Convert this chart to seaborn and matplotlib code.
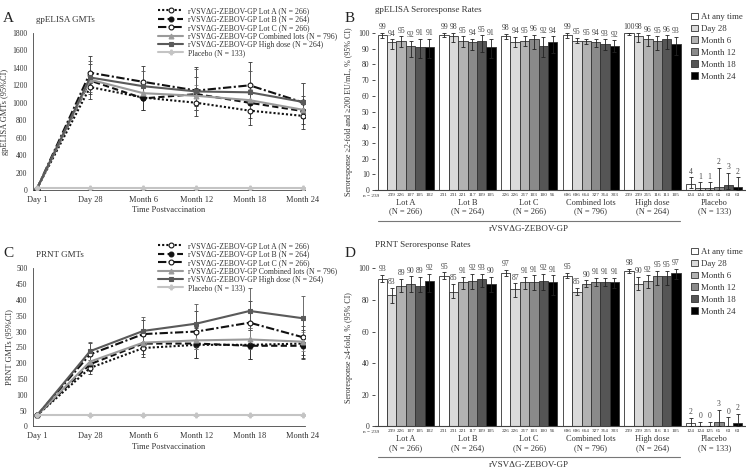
import matplotlib
matplotlib.use('Agg')
import matplotlib.pyplot as plt
from matplotlib.container import BarContainer
import seaborn as sns
import numpy as np
import pandas as pd

sns.set_style('white')
plt.rcParams['font.family'] = ['Liberation Serif', 'DejaVu Serif']
plt.rcParams['text.color'] = '#333333'
plt.rcParams['axes.labelcolor'] = '#333333'
plt.rcParams['xtick.color'] = '#333333'
plt.rcParams['ytick.color'] = '#333333'

# ---------------------------------------------------------------------------
# data
# ---------------------------------------------------------------------------
times = ["Day 1", "Day 28", "Month 6", "Month 12", "Month 18", "Month 24"]
series = ["rVSVΔG-ZEBOV-GP Lot A (N = 266)",
          "rVSVΔG-ZEBOV-GP Lot B (N = 264)",
          "rVSVΔG-ZEBOV-GP Lot C (N = 266)",
          "rVSVΔG-ZEBOV-GP Combined lots (N = 796)",
          "rVSVΔG-ZEBOV-GP High dose (N = 264)",
          "Placebo (N = 133)"]

# gpELISA GMTs (rows = series, cols = times)
elisa_gmt = [[15, 1180, 1060, 1000, 910, 850],
             [15, 1255, 1050, 1100, 1000, 905],
             [15, 1345, 1240, 1140, 1200, 1005],
             [15, 1265, 1110, 1080, 1030, 920],
             [15, 1290, 1190, 1130, 1120, 1010],
             [22, 22, 22, 22, 22, 22]]
elisa_gmt_lo = [[14, 1040, 920, 850, 745, 700],
                [14, 1100, 920, 920, 830, 760],
                [14, 1170, 1080, 960, 980, 830],
                [14, 1170, 1030, 970, 920, 830],
                [14, 1120, 1040, 920, 920, 830],
                [20, 20, 20, 20, 20, 20]]
elisa_gmt_hi = [[16, 1340, 1210, 1170, 1100, 1030],
                [16, 1450, 1200, 1300, 1200, 1080],
                [16, 1540, 1420, 1410, 1470, 1230],
                [16, 1370, 1200, 1200, 1160, 1020],
                [16, 1480, 1360, 1390, 1370, 1230],
                [24, 24, 24, 24, 24, 24]]

# PRNT GMTs
prnt_gmt = [[35, 185, 248, 258, 258, 262],
            [35, 197, 262, 262, 255, 255],
            [35, 228, 292, 300, 328, 282],
            [35, 205, 265, 272, 275, 268],
            [35, 238, 302, 325, 365, 342],
            [35, 35, 35, 35, 35, 35]]
prnt_gmt_lo = [[34, 165, 218, 215, 213, 215],
               [34, 175, 228, 215, 213, 213],
               [34, 195, 250, 245, 270, 225],
               [34, 190, 248, 245, 245, 240],
               [34, 205, 262, 270, 305, 283],
               [34, 34, 34, 34, 34, 34]]
prnt_gmt_hi = [[36, 210, 285, 310, 310, 318],
               [36, 225, 300, 315, 305, 305],
               [36, 265, 335, 365, 398, 350],
               [36, 222, 285, 300, 310, 298],
               [36, 268, 345, 388, 438, 413],
               [36, 36, 36, 36, 36, 36]]

# seroresponse rates (rows = groups, cols = time points)
groups = ["Lot A", "Lot B", "Lot C", "Combined lots", "High dose", "Placebo"]
group_n = ["(N = 266)", "(N = 264)", "(N = 266)", "(N = 796)", "(N = 264)", "(N = 133)"]
bar_levels = ["At any time", "Day 28", "Month 6", "Month 12", "Month 18", "Month 24"]
bar_n = [[239, 239, 226, 107, 105, 102],
         [231, 231, 221, 117, 109, 105],
         [226, 226, 217, 103, 100, 96],
         [696, 696, 664, 327, 314, 303],
         [239, 239, 215, 116, 111, 105],
         [124, 124, 125, 65, 63, 63]]

elisa_rate = [[99, 94, 95, 92, 91, 91],
              [99, 98, 95, 94, 95, 91],
              [98, 94, 95, 96, 92, 94],
              [99, 95, 95, 94, 93, 92],
              [100, 98, 96, 95, 96, 93],
              [4, 1, 1, 2, 3, 2]]
elisa_rate_lo = [[97, 90, 91, 85, 84, 84],
                 [97.5, 94, 91, 89, 88, 84],
                 [96.5, 91, 92, 90, 85, 87],
                 [97, 93.5, 93, 91, 89.5, 88],
                 [98.5, 94.5, 92, 89.5, 90, 86],
                 [1.5, 0.1, 0.1, 0.3, 0.5, 0.3]]
elisa_rate_hi = [[100, 96, 98, 95, 96.5, 96.5],
                 [100, 100, 98, 96.5, 98.5, 96.5],
                 [99.5, 97.5, 98, 99, 97.5, 98],
                 [100, 97, 96.5, 96.5, 96, 95.5],
                 [100, 100, 98.5, 98, 98.5, 97.5],
                 [8, 5, 5, 14, 11, 8]]

prnt_rate = [[93, 83, 89, 90, 89, 92],
             [95, 85, 91, 92, 93, 90],
             [97, 87, 91, 91, 92, 91],
             [95, 85, 90, 91, 91, 91],
             [98, 90, 92, 95, 95, 97],
             [2, 0, 0, 3, 0, 2]]
prnt_rate_lo = [[91, 78, 85, 85, 85, 85],
                [93.5, 81, 87, 87, 88, 85],
                [95, 82, 87, 86, 86, 83],
                [94, 83, 88, 88.5, 88.5, 87.5],
                [97, 86, 87.5, 89.5, 89.5, 93.5],
                [0.3, 0, 0, 0.5, 0, 0.1]]
prnt_rate_hi = [[96, 87.5, 93.5, 95, 94.5, 96.5],
                [97.5, 90, 94.5, 96.5, 96.5, 94.5],
                [99, 90.5, 94.5, 95.5, 96.5, 95.5],
                [97, 87.5, 92.5, 94, 94, 94],
                [99.5, 94.5, 95.5, 98.5, 98.5, 99.5],
                [5.5, 3, 3, 10.5, 5.7, 8]]

# ---------------------------------------------------------------------------
# styles
# ---------------------------------------------------------------------------
line_colors = ['#111111', '#111111', '#111111', '#9a9a9a', '#5a5a5a', '#c4c4c4']
err_colors = ['#333333', '#333333', '#333333', '#8a8a8a', '#555555', '#bbbbbb']
line_dashes = [(1, 1), (3, 1.6), (4, 1.2, 1, 1.2), '', '', '']
line_markers = ['o', 'o', 'o', '^', 's', 'P']
open_marker = [True, False, True, False, False, False]
bar_colors = ['#ffffff', '#dadada', '#b2b2b2', '#8a8a8a', '#555555', '#000000']

FIG_W, FIG_H = 746, 471


def draw_gmt(ax, gmt, lo, hi, title, ylabel, ymax, ystep):
    rows = []
    for s, vals in zip(series, gmt):
        for t, v in enumerate(vals):
            rows.append({'series': s, 'time': t, 'gmt': v})
    df = pd.DataFrame(rows)
    sns.lineplot(data=df, x='time', y='gmt', hue='series', style='series',
                 palette=dict(zip(series, line_colors)),
                 dashes=dict(zip(series, line_dashes)),
                 markers=dict(zip(series, line_markers)),
                 lw=1.5, markersize=3.5, ax=ax, legend=False, zorder=3)
    lines = list(ax.lines[:len(series)])
    for ln, c, op in zip(lines, line_colors, open_marker):
        ln.set_markeredgecolor(c)
        ln.set_markeredgewidth(0.8)
        if op:
            ln.set_markerfacecolor('white')
    for i in range(len(series)):
        v = np.array(gmt[i], dtype=float)
        yerr = [v - np.array(lo[i]), np.array(hi[i]) - v]
        ax.errorbar(np.arange(len(times)), v, yerr=yerr, fmt='none',
                    ecolor=err_colors[i], elinewidth=0.6, capsize=1.6,
                    capthick=0.6, zorder=2, clip_on=False)
    ax.set_xlim(-0.075, 5.04)
    ax.set_ylim(0, ymax)
    ax.set_xticks(range(len(times)))
    ax.set_xticklabels(times, fontsize=6)
    ax.set_yticks(np.arange(0, ymax + 1, ystep))
    ax.tick_params(axis='y', labelsize=5.5, length=2, width=0.6, pad=2)
    ax.tick_params(axis='x', length=2, width=0.6, pad=2)
    ax.set_xlabel("Time Postvaccination", fontsize=6, labelpad=2)
    ax.set_ylabel(ylabel, fontsize=6, labelpad=2)
    for sp in ['top', 'right']:
        ax.spines[sp].set_visible(False)
    for sp in ['left', 'bottom']:
        ax.spines[sp].set_linewidth(0.6)
        ax.spines[sp].set_color('#444444')
    ax.text(0.01, 1.085, title, transform=ax.transAxes, fontsize=6.5, va='center')
    ax.legend(lines, series, loc='upper left', bbox_to_anchor=(0.46, 1.165),
              frameon=False, fontsize=5.6, handlelength=3.2, labelspacing=0.05,
              handletextpad=0.6, borderaxespad=0, borderpad=0)


def draw_rates(ax, rate, lo, hi, title, ylabel, ystep):
    rows = []
    for g, grp in enumerate(groups):
        for k, lev in enumerate(bar_levels):
            rows.append({'group': grp, 'level': lev, 'rate': rate[g][k]})
    df = pd.DataFrame(rows)
    sns.barplot(data=df, x='group', y='rate', hue='level', order=groups,
                hue_order=bar_levels, palette=bar_colors, width=0.91,
                edgecolor='#333333', linewidth=0.6, errorbar=None,
                ax=ax, legend=False)
    xt = ax.get_xaxis_transform()
    ax_h = ax.get_position().height * FIG_H

    def below(px):
        return -px / ax_h

    bar_conts = [c for c in ax.containers if isinstance(c, BarContainer)]
    for k, cont in enumerate(bar_conts):
        for g, p in enumerate(cont.patches):
            xc = p.get_x() + p.get_width() / 2
            v = rate[g][k]
            ax.errorbar([xc], [v], yerr=[[v - lo[g][k]], [hi[g][k] - v]],
                        fmt='none', ecolor='#222222', elinewidth=0.6,
                        capsize=1.5, capthick=0.6, zorder=4, clip_on=False)
            ax.text(xc, hi[g][k] + 1.0, str(v), ha='center', va='bottom',
                    fontsize=5.5, color='#444444', clip_on=False)
            lab = str(bar_n[g][k])
            if g == 0 and k == 0:
                ax.text(p.get_x() + p.get_width() * 0.2, below(5.5), "n = " + lab,
                        transform=xt, ha='right', va='center', fontsize=3.8)
            else:
                ax.text(xc, below(5.0), lab, transform=xt, ha='center',
                        va='center', fontsize=3.8)
    for g in range(len(groups)):
        ax.text(g, below(13), groups[g], transform=xt, ha='center', va='center',
                fontsize=6)
        ax.text(g, below(21.5), group_n[g], transform=xt, ha='center', va='center',
                fontsize=6)
    x0, x1 = -0.45, len(groups) - 2 + 0.44
    ax.plot([x0, x1], [below(30.5), below(30.5)], transform=xt, color='#777777',
            lw=0.8, clip_on=False)
    ax.text((x0 + x1) / 2, below(39), "rVSVΔG-ZEBOV-GP", transform=xt,
            ha='center', va='center', fontsize=6.5)
    ax.set_xlim(-0.5, len(groups) - 0.5)
    ax.set_ylim(0, 100)
    ax.set_yticks(np.arange(0, 101, ystep))
    ax.set_xticks([])
    ax.set_xlabel('')
    ax.tick_params(axis='y', labelsize=5.5, length=2, width=0.6, pad=2, left=True)
    ax.set_ylabel(ylabel, fontsize=5.8, labelpad=4)
    for sp in ['top', 'right', 'left']:
        ax.spines[sp].set_visible(False)
    ax.spines['bottom'].set_linewidth(0.8)
    ax.spines['bottom'].set_color('#444444')
    ax.text(0.0, 1.145, title, transform=ax.transAxes, fontsize=6.5, va='center')
    ax.legend(bar_conts, bar_levels, loc='upper left',
              bbox_to_anchor=(0.855, 1.13), frameon=False, fontsize=6.3,
              handlelength=0.75, handleheight=0.75, handletextpad=0.3,
              labelspacing=0.42, borderaxespad=0, borderpad=0)


fig = plt.figure(figsize=(FIG_W / 100, FIG_H / 100), dpi=100)
ax_a = fig.add_axes([0.0442, 0.5966, 0.3646, 0.3333])
ax_b = fig.add_axes([0.5027, 0.5966, 0.496, 0.3333])
ax_c = fig.add_axes([0.0442, 0.0945, 0.3646, 0.336])
ax_d = fig.add_axes([0.5027, 0.0945, 0.496, 0.336])

draw_gmt(ax_a, elisa_gmt, elisa_gmt_lo, elisa_gmt_hi, "gpELISA GMTs",
         "gpELISA GMTs (95%CI)", 1800, 200)
draw_gmt(ax_c, prnt_gmt, prnt_gmt_lo, prnt_gmt_hi, "PRNT GMTs",
         "PRNT GMTs (95%CI)", 500, 50)
draw_rates(ax_b, elisa_rate, elisa_rate_lo, elisa_rate_hi,
           "gpELISA Seroresponse Rates",
           "Seroresponse ≥2-fold and ≥200 EU/mL, % (95% CI)", 10)
draw_rates(ax_d, prnt_rate, prnt_rate_lo, prnt_rate_hi,
           "PRNT Seroresponse Rates", "Seroresponse ≥4-fold, % (95% CI)", 20)

for lab, x, y in [("A", 0.004, 0.975), ("B", 0.462, 0.975),
                  ("C", 0.004, 0.475), ("D", 0.462, 0.475)]:
    fig.text(x, y, lab, fontsize=11, va='top', ha='left', color='#222222')

fig.savefig("out.png", dpi=100)
